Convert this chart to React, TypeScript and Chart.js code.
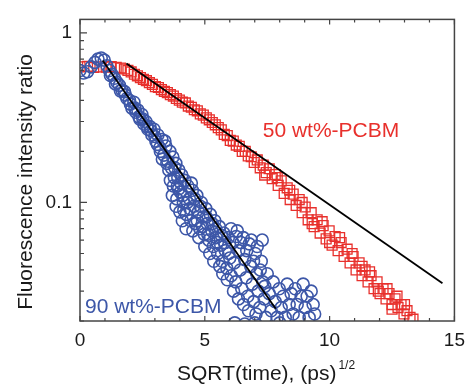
import React, { useEffect, useRef } from "react";
import { Chart, registerables } from "chart.js";

Chart.register(...registerables);

// ---- data ----
const RED_POINTS: [number, number][] = [
  [0, 0.63], [0.3, 0.635], [0.55, 0.625], [0.8, 0.63], [1.05, 0.628], [1.25, 0.632], [1.45, 0.625],
  [1.62, 0.62], [1.78, 0.612], [1.92, 0.6], [2.05, 0.588], [2.18, 0.57], [2.3, 0.558], [2.42, 0.545],
  [2.54, 0.532], [2.66, 0.522], [2.78, 0.508], [2.9, 0.497], [3.02, 0.482], [3.14, 0.476], [3.26, 0.463],
  [3.38, 0.452], [3.5, 0.444], [3.62, 0.432], [3.74, 0.424], [3.86, 0.41], [3.98, 0.401], [4.1, 0.39],
  [4.22, 0.386], [4.34, 0.37], [4.46, 0.364], [4.58, 0.352], [4.7, 0.347], [4.82, 0.333], [4.94, 0.327],
  [5.06, 0.315], [5.18, 0.307], [5.3, 0.296], [5.42, 0.287], [5.54, 0.276], [5.66, 0.268], [5.78, 0.252],
  [5.9, 0.248], [6.02, 0.232], [6.14, 0.23], [6.26, 0.218], [6.38, 0.214], [6.5, 0.2], [6.62, 0.2],
  [6.74, 0.188], [6.86, 0.186], [6.98, 0.172], [7.1, 0.178], [7.22, 0.16], [7.34, 0.166], [7.46, 0.15],
  [7.58, 0.158], [7.7, 0.138], [7.82, 0.146], [7.94, 0.126], [8.06, 0.134], [8.18, 0.113], [8.3, 0.122],
  [8.42, 0.104], [8.54, 0.112], [8.66, 0.096], [8.78, 0.104], [8.9, 0.087], [9.02, 0.094], [9.14, 0.079],
  [9.26, 0.087], [9.38, 0.072], [9.5, 0.079], [9.62, 0.066], [9.74, 0.073], [9.86, 0.061], [9.98, 0.068],
  [10.1, 0.056], [10.22, 0.063], [10.34, 0.052], [10.46, 0.058], [10.58, 0.048], [10.7, 0.053],
  [10.82, 0.044], [10.94, 0.048], [11.06, 0.04], [11.18, 0.044], [11.3, 0.037], [11.42, 0.04],
  [11.54, 0.034], [11.66, 0.037], [11.78, 0.031], [11.9, 0.034], [12.02, 0.029], [12.14, 0.031],
  [12.26, 0.027], [12.38, 0.029], [12.5, 0.025], [12.62, 0.027], [12.74, 0.024], [12.86, 0.025],
  [12.98, 0.022], [13.1, 0.023], [13.22, 0.021], [13.34, 0.0205],
  [7.4, 0.145], [7.9, 0.14], [8.4, 0.118], [8.9, 0.1], [9.3, 0.075], [9.7, 0.077], [10.0, 0.058],
  [10.4, 0.062], [10.9, 0.05], [11.3, 0.042], [11.6, 0.039], [11.95, 0.03], [12.3, 0.031], [12.7, 0.028],
  [13.0, 0.025], [12.5, 0.0235],
];

const BLUE_POINTS: [number, number][] = [
  [0, 0.6], [0.15, 0.58], [0.3, 0.59], [0.45, 0.63], [0.6, 0.67], [0.72, 0.7], [0.85, 0.71], [0.97, 0.69],
  [1.08, 0.64], [1.18, 0.6], [1.28, 0.57], [1.38, 0.54], [1.48, 0.51], [1.58, 0.49], [1.68, 0.46],
  [1.78, 0.45], [1.88, 0.41], [1.98, 0.4], [2.08, 0.36], [2.16, 0.39], [2.24, 0.34], [2.32, 0.35],
  [2.4, 0.31], [2.48, 0.33], [2.56, 0.29], [2.64, 0.3], [2.72, 0.27], [2.8, 0.28], [2.88, 0.25],
  [2.96, 0.27], [3.04, 0.23], [3.12, 0.25], [3.2, 0.21], [3.28, 0.235], [3.36, 0.19], [3.44, 0.215],
  [3.52, 0.175], [3.6, 0.2], [3.66, 0.16], [3.72, 0.185], [3.78, 0.14], [3.84, 0.17], [3.9, 0.125],
  [3.96, 0.155], [4.02, 0.115], [4.08, 0.145], [4.14, 0.1], [4.2, 0.135], [4.26, 0.085], [4.32, 0.125],
  [4.38, 0.105], [4.44, 0.078], [4.5, 0.118], [4.56, 0.095], [4.62, 0.075], [4.68, 0.11], [4.74, 0.088],
  [4.8, 0.07], [4.86, 0.1], [4.92, 0.082], [4.98, 0.065], [5.04, 0.092], [5.1, 0.075], [5.16, 0.06],
  [5.22, 0.085], [5.28, 0.068], [5.34, 0.055], [5.4, 0.078], [5.46, 0.062], [5.52, 0.05], [5.58, 0.072],
  [5.64, 0.056], [5.7, 0.045], [5.76, 0.066], [5.82, 0.052], [5.88, 0.041], [5.94, 0.062], [6.0, 0.047],
  [6.06, 0.037], [6.12, 0.058], [6.18, 0.044], [6.24, 0.034], [6.3, 0.068], [6.36, 0.052], [6.42, 0.04],
  [6.48, 0.031], [6.54, 0.062], [6.6, 0.046], [6.66, 0.036], [6.72, 0.028], [6.78, 0.057], [6.84, 0.042],
  [6.9, 0.033], [6.96, 0.026], [7.02, 0.05], [7.08, 0.038], [7.14, 0.03], [7.2, 0.024], [7.26, 0.045],
  [7.32, 0.034], [7.38, 0.027], [7.44, 0.021], [7.5, 0.038], [7.58, 0.029], [7.66, 0.023], [7.74, 0.034],
  [7.82, 0.026], [7.9, 0.021], [7.98, 0.031], [8.06, 0.024], [8.14, 0.028], [8.22, 0.021], [8.3, 0.033],
  [8.38, 0.025], [8.46, 0.029], [8.54, 0.022], [8.62, 0.031], [8.7, 0.025], [8.78, 0.021], [8.86, 0.028],
  [8.94, 0.033], [9.02, 0.024], [9.1, 0.028], [9.18, 0.021], [9.26, 0.03], [9.34, 0.025], [9.4, 0.022],
  [6.2, 0.0195], [7.0, 0.0195], [8.0, 0.0195], [6.6, 0.0192], [3.7, 0.11], [3.85, 0.095], [4.0, 0.088],
  [3.95, 0.12], [4.1, 0.078], [4.25, 0.07],
  [1.22, 0.56], [1.42, 0.5], [1.62, 0.455], [1.82, 0.43], [2.02, 0.38], [2.2, 0.36], [2.36, 0.32],
  [2.52, 0.31], [2.68, 0.28], [2.84, 0.265], [3.0, 0.245], [3.1, 0.22], [3.22, 0.2], [3.3, 0.18],
  [3.4, 0.23], [3.48, 0.17], [3.56, 0.155], [3.62, 0.135], [3.74, 0.125], [3.8, 0.16], [3.88, 0.105],
  [3.92, 0.14], [4.04, 0.13], [4.12, 0.11], [4.16, 0.09], [4.3, 0.1], [4.4, 0.092], [4.46, 0.13],
  [4.52, 0.068], [4.6, 0.105], [4.7, 0.078], [4.76, 0.062], [4.82, 0.095], [4.9, 0.072], [5.0, 0.055],
  [5.06, 0.082], [5.12, 0.065], [5.2, 0.05], [5.3, 0.075], [5.36, 0.045], [5.44, 0.07], [5.5, 0.058],
  [5.6, 0.042], [5.66, 0.064], [5.72, 0.038], [5.8, 0.058], [5.9, 0.035], [5.96, 0.05], [6.05, 0.07],
  [6.15, 0.03], [6.26, 0.063], [6.35, 0.027], [6.45, 0.058], [6.55, 0.025], [6.68, 0.052], [6.75, 0.023],
  [6.86, 0.06], [6.95, 0.045], [7.05, 0.022], [7.1, 0.055], [7.22, 0.04], [7.3, 0.06], [7.4, 0.032],
];

const RED_FIT: [number, number][] = [[1.86, 0.66], [14.52, 0.0334]];
const BLUE_FIT: [number, number][] = [[0.91, 0.687], [7.84, 0.0236]];

const X_MAJOR_TICKS = [0, 5, 10, 15];
const X_MINOR_TICKS = [1, 2, 3, 4, 6, 7, 8, 9, 11, 12, 13, 14];
const Y_MAJOR_TICKS = [0.1, 1];
const Y_MINOR_TICKS = [0.02, 0.03, 0.04, 0.05, 0.06, 0.07, 0.08, 0.09, 0.2, 0.3, 0.4, 0.5, 0.6, 0.7, 0.8, 0.9];

const RED_LABEL = { text: "50 wt%-PCBM", x: 7.32, y: 0.242 };
const BLUE_LABEL = { text: "90 wt%-PCBM", x: 0.2, y: 0.0223 };

const X_TITLE = "SQRT(time), (ps)";
const X_TITLE_SUP = "1/2";
const Y_TITLE = "Fluorescence intensity ratio";

const RED = "#e8302c";
const BLUE = "#3d57a8";
const FONT = '"Liberation Sans", Arial, sans-serif';

const toXY = (pts: [number, number][]) => pts.map(([x, y]) => ({ x, y }));

const framePlugin = {
  id: "framePlugin",
  afterDatasetsDraw(chart: any) {
    const { ctx, chartArea: a, scales } = chart;
    const xs = scales.x;
    const ys = scales.y;
    ctx.save();
    ctx.strokeStyle = "#444";
    ctx.lineWidth = 1.5;
    ctx.strokeRect(a.left, a.top, a.right - a.left, a.bottom - a.top);
    ctx.lineWidth = 1.2;
    ctx.beginPath();
    const xt = (v: number, len: number) => {
      const p = xs.getPixelForValue(v);
      ctx.moveTo(p, a.bottom);
      ctx.lineTo(p, a.bottom - len);
      ctx.moveTo(p, a.top);
      ctx.lineTo(p, a.top + len);
    };
    X_MAJOR_TICKS.forEach((v) => xt(v, 5));
    X_MINOR_TICKS.forEach((v) => xt(v, 3));
    const yt = (v: number, len: number) => {
      const p = ys.getPixelForValue(v);
      ctx.moveTo(a.left, p);
      ctx.lineTo(a.left + len, p);
    };
    Y_MAJOR_TICKS.forEach((v) => yt(v, 7));
    Y_MINOR_TICKS.forEach((v) => yt(v, 4));
    ctx.stroke();

    // series labels
    ctx.font = `21px ${FONT}`;
    ctx.textAlign = "left";
    ctx.textBaseline = "alphabetic";
    ctx.fillStyle = RED;
    ctx.fillText(RED_LABEL.text, xs.getPixelForValue(RED_LABEL.x), ys.getPixelForValue(RED_LABEL.y));
    ctx.fillStyle = BLUE;
    ctx.fillText(BLUE_LABEL.text, xs.getPixelForValue(BLUE_LABEL.x), ys.getPixelForValue(BLUE_LABEL.y));

    // axis titles
    ctx.fillStyle = "#1a1a1a";
    ctx.font = `21px ${FONT}`;
    ctx.fillText(X_TITLE, 177, 380);
    const w = ctx.measureText(X_TITLE).width;
    ctx.font = `12px ${FONT}`;
    ctx.fillText(X_TITLE_SUP, 177 + w + 2, 369);

    ctx.font = `21px ${FONT}`;
    ctx.translate(32, 182);
    ctx.rotate(-Math.PI / 2);
    ctx.textAlign = "center";
    ctx.fillText(Y_TITLE, 0, 0);
    ctx.restore();
  },
};

export default function App() {
  const ref = useRef<HTMLCanvasElement | null>(null);
  useEffect(() => {
    if (!ref.current) return;
    const chart = new Chart(ref.current, {
      type: "scatter",
      data: {
        datasets: [
          {
            data: toXY(RED_FIT),
            showLine: true,
            borderColor: "#000",
            borderWidth: 1.8,
            pointRadius: 0,
            clip: 0,
          } as any,
          {
            data: toXY(BLUE_FIT),
            showLine: true,
            borderColor: "#000",
            borderWidth: 1.8,
            pointRadius: 0,
            clip: 0,
          } as any,
          {
            data: toXY(BLUE_POINTS),
            pointStyle: "circle",
            pointRadius: 6,
            pointBorderWidth: 1.6,
            borderColor: BLUE,
            backgroundColor: "rgba(0,0,0,0)",
            clip: 0,
          } as any,
          {
            data: toXY(RED_POINTS),
            pointStyle: "rect",
            pointRadius: 7,
            pointBorderWidth: 1.3,
            borderColor: RED,
            backgroundColor: "rgba(0,0,0,0)",
            clip: 0,
          } as any,
        ],
      },
      options: {
        animation: false,
        responsive: false,
        layout: { padding: { top: 16, right: 14, left: 0, bottom: 0 } },
        plugins: { legend: { display: false }, tooltip: { enabled: false } },
        scales: {
          x: {
            type: "linear",
            min: 0,
            max: 15,
            afterFit: (s: any) => {
              s.height = 63;
            },
            afterBuildTicks: (s: any) => {
              s.ticks = X_MAJOR_TICKS.map((v) => ({ value: v }));
            },
            grid: { display: false, drawTicks: false },
            border: { display: false },
            ticks: {
              padding: 8,
              color: "#1a1a1a",
              font: { family: FONT, size: 19 },
              autoSkip: false,
              maxRotation: 0,
              callback: (v: any) => String(v),
            },
          },
          y: {
            type: "logarithmic",
            min: 0.02,
            max: 1.2,
            afterFit: (s: any) => {
              s.width = 80;
            },
            afterBuildTicks: (s: any) => {
              s.ticks = Y_MAJOR_TICKS.map((v) => ({ value: v }));
            },
            grid: { display: false, drawTicks: false },
            border: { display: false },
            ticks: {
              padding: 8,
              color: "#1a1a1a",
              font: { family: FONT, size: 19 },
              autoSkip: false,
              callback: (v: any) => (Math.abs(v - 1) < 1e-9 ? "1" : "0.1"),
            },
          },
        },
      },
      plugins: [framePlugin],
    });
    return () => chart.destroy();
  }, []);
  return (
    <div style={{ position: "fixed", left: 0, top: 0, width: 473, height: 384, background: "#fff" }}>
      <canvas ref={ref} width={473} height={384} style={{ display: "block" }} />
    </div>
  );
}
